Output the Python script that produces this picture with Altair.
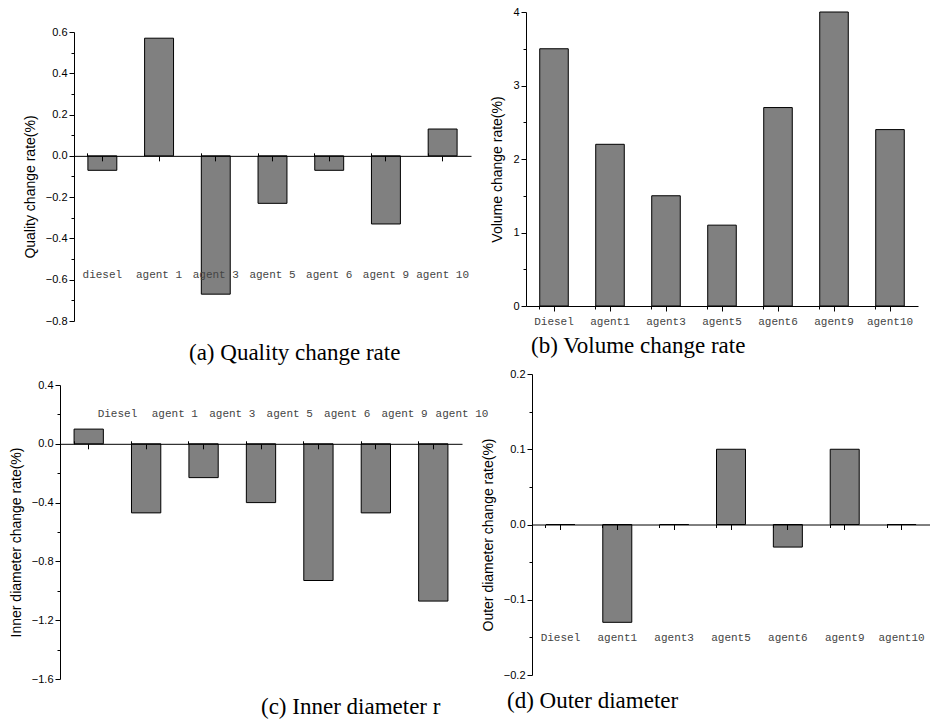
import altair as alt
import pandas as pd

# ---------------- data ----------------
cats_a = ["diesel", "agent 1", "agent 3", "agent 5", "agent 6", "agent 9", "agent 10"]
vals_a = [-0.07, 0.57, -0.67, -0.23, -0.07, -0.33, 0.13]
major_a = [-0.8, -0.6, -0.4, -0.2, 0.0, 0.2, 0.4, 0.6]
minor_a = [-0.7, -0.5, -0.3, -0.1, 0.1, 0.3, 0.5]

cats_b = ["Diesel", "agent1", "agent3", "agent5", "agent6", "agent9", "agent10"]
vals_b = [3.5, 2.2, 1.5, 1.1, 2.7, 4.0, 2.4]
major_b = [0, 1, 2, 3, 4]
minor_b = [0.5, 1.5, 2.5, 3.5]

cats_c = ["Diesel", "agent 1", "agent 3", "agent 5", "agent 6", "agent 9", "agent 10"]
vals_c = [0.1, -0.47, -0.23, -0.40, -0.93, -0.47, -1.07]
major_c = [-1.6, -1.2, -0.8, -0.4, 0.0, 0.4]
minor_c = [-1.4, -1.0, -0.6, -0.2, 0.2]

cats_d = ["Diesel", "agent1", "agent3", "agent5", "agent6", "agent9", "agent10"]
vals_d = [0.0, -0.13, 0.0, 0.1, -0.03, 0.1, 0.0]
major_d = [-0.2, -0.1, 0.0, 0.1, 0.2]
minor_d = [-0.15, -0.05, 0.05, 0.15]

SANS = "Liberation Sans"
SERIF = "Liberation Serif"
MONO = "Liberation Mono"
P_IN = 0.49


def panel(cats, vals, ydom, major, minor, fmt, ytitle, caption,
          width, height, x_start, y_top, at_zero,
          labels_on_minor, minor_orient, label_pad,
          cap_dx, cap_offset):
    df = pd.DataFrame({"cat": cats, "v": vals})
    zero_px = y_top + (ydom[1] - 0.0) / (ydom[1] - ydom[0]) * (height - y_top)
    step = (width - x_start) / len(cats)
    main_offset = -(height - zero_px) if at_zero else 0
    xscale = alt.Scale(domain=cats, range=[x_start, width],
                       paddingInner=P_IN, paddingOuter=P_IN / 2)
    yscale = alt.Scale(domain=ydom, range=[height, y_top], nice=False, zero=False)
    title_y = (height + y_top) / 2 + 10
    y_offset = -x_start

    lab_main = dict(labels=False)
    if not labels_on_minor:
        lab_main = dict(labels=True, labelFont=MONO, labelFontSize=11,
                        labelColor="#444", labelAngle=0, labelPadding=label_pad)
    main_x = alt.Axis(orient="bottom", offset=main_offset, title=None, tickSize=5,
                      tickColor="black", domainColor="black", domainWidth=1,
                      zindex=1, grid=False, **lab_main)
    if minor_orient == "top":
        minor_offset = -zero_px
    else:
        minor_offset = main_offset
    lab_min = dict(labels=False)
    if labels_on_minor:
        lab_min = dict(labels=True, labelFont=MONO, labelFontSize=11,
                       labelColor="#444", labelAngle=0, labelPadding=label_pad,
                       labelOffset=step / 2)
    minor_x = alt.Axis(orient=minor_orient, offset=minor_offset, title=None,
                       tickSize=3, tickColor="black", domain=False, bandPosition=0,
                       zindex=1, grid=False, **lab_min)
    main_y = alt.Axis(orient="left", offset=y_offset, values=major, format=fmt,
                      title=ytitle, titleFont=SANS, titleFontSize=14,
                      titleFontWeight="normal", titleColor="black", titlePadding=8,
                      titleY=title_y,
                      labelFont=SANS, labelFontSize=11, labelColor="black",
                      labelPadding=2, tickSize=5, tickColor="black",
                      domainColor="black", grid=False, zindex=1)
    minor_y = alt.Axis(orient="left", offset=y_offset, values=minor, labels=False,
                       title=None, tickSize=3, tickColor="black", domain=False,
                       grid=False, zindex=1)

    bars = alt.Chart(df).mark_bar(fill="#808080", stroke="black", strokeWidth=1).encode(
        x=alt.X("cat:N", sort=cats, scale=xscale, axis=main_x),
        y=alt.Y("v:Q", scale=yscale, axis=main_y),
    )
    ghost = alt.Chart(df).mark_bar(opacity=0).encode(
        x=alt.X("cat:N", sort=cats, axis=minor_x),
        y=alt.Y("v:Q", axis=minor_y),
    )
    return alt.layer(bars, ghost).resolve_axis(x="independent", y="independent").properties(
        width=width, height=height,
        title=alt.TitleParams(caption, orient="bottom", frame="group", anchor="start",
                              dx=cap_dx, offset=cap_offset, baseline="middle",
                              font=SERIF, fontSize=23, fontWeight="normal",
                              color="black"),
    )


pa = panel(cats_a, vals_a, [-0.8, 0.6], major_a, minor_a, ".1f",
           "Quality change rate(%)", "(a) Quality change rate",
           width=411, height=309, x_start=14, y_top=20, at_zero=True,
           labels_on_minor=False, minor_orient="top", label_pad=108,
           cap_dx=129, cap_offset=27)
pb = panel(cats_b, vals_b, [0, 4], major_b, minor_b, "d",
           "Volume change rate(%)", "(b) Volume change rate",
           width=392, height=294, x_start=0, y_top=0, at_zero=False,
           labels_on_minor=False, minor_orient="bottom", label_pad=4,
           cap_dx=5, cap_offset=20)
pc = panel(cats_c, vals_c, [-1.6, 0.4], major_c, minor_c, ".1f",
           "Inner diameter change rate(%)", "(c) Inner diameter r",
           width=402, height=305, x_start=0, y_top=11, at_zero=True,
           labels_on_minor=True, minor_orient="top", label_pad=22,
           cap_dx=201, cap_offset=23)
pd_ = panel(cats_d, vals_d, [-0.2, 0.2], major_d, minor_d, ".1f",
            "Outer diameter change rate(%)", "(d) Outer diameter",
            width=404, height=301, x_start=6, y_top=0, at_zero=True,
            labels_on_minor=False, minor_orient="bottom", label_pad=102,
            cap_dx=-19, cap_offset=21)

chart = alt.concat(
    pa, pb, pc, pd_, columns=2, bounds="flush", align="each",
    spacing={"row": 53, "column": 55},
).configure_view(
    stroke=None
).properties(
    padding={"left": 9, "top": 6, "right": 0, "bottom": 0},
    background="white",
)

chart.save("out.html", embed_options={"renderer": "svg", "actions": False})
